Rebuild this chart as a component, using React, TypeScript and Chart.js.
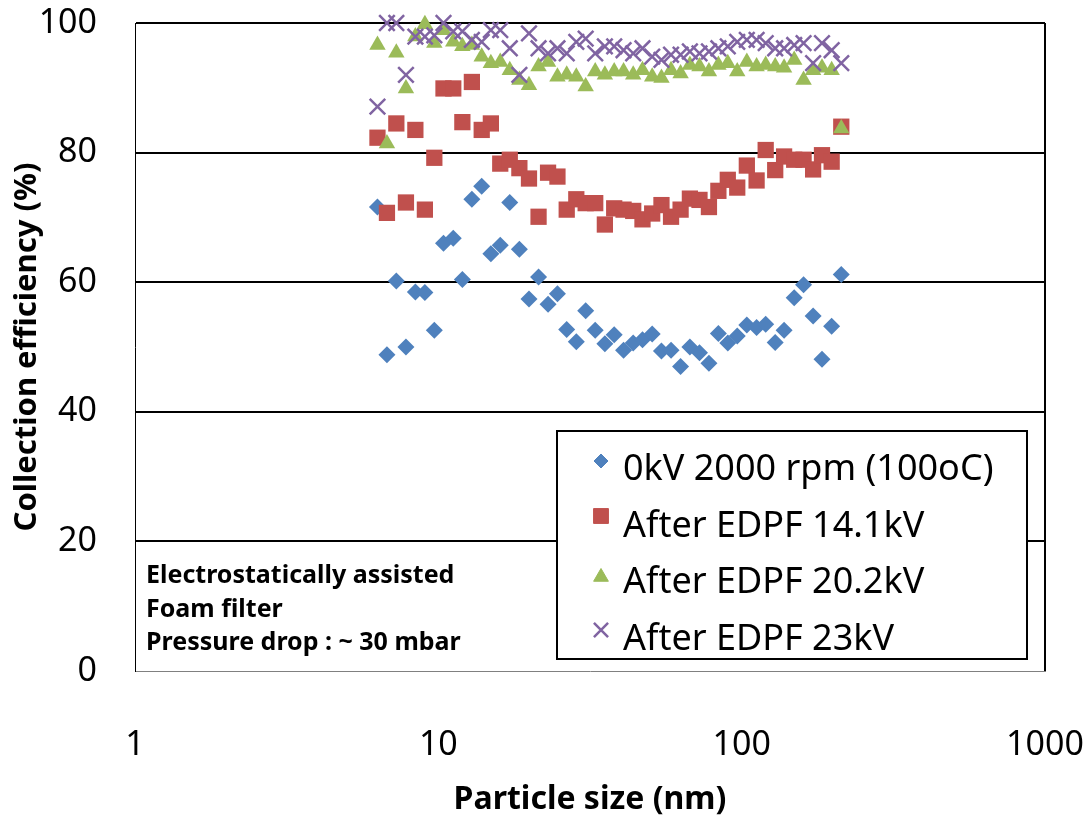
import React, { useEffect, useRef } from "react";
import { Chart, registerables } from "chart.js";
import { drawPoint } from "chart.js/helpers";

Chart.register(...registerables);

// ---- data ----
const sizesNm = [
  6.3, 6.77, 7.27, 7.82, 8.4, 9.03, 9.7, 10.4, 11.2, 12.0,
  12.9, 13.9, 14.9, 16.0, 17.2, 18.5, 19.9, 21.4, 23.0, 24.7,
  26.5, 28.5, 30.6, 32.9, 35.4, 38.0, 40.8, 43.9, 47.1, 50.7,
  54.4, 58.5, 62.9, 67.5, 72.6, 78.0, 83.8, 90.0, 96.7, 104,
  112, 120, 129, 138, 149, 160, 172, 184, 198, 213,
];

const eff0kV = [
  71.6, 48.8, 60.2, 50.0, 58.5, 58.4, 52.6, 66.0, 66.8, 60.4,
  72.8, 74.8, 64.4, 65.7, 72.3, 65.1, 57.4, 60.8, 56.6, 58.2,
  52.7, 50.8, 55.6, 52.6, 50.5, 51.9, 49.5, 50.6, 51.1, 52.0,
  49.4, 49.5, 47.0, 50.0, 49.1, 47.5, 52.1, 50.6, 51.7, 53.4,
  53.0, 53.5, 50.7, 52.6, 57.6, 59.6, 54.8, 48.1, 53.2, 61.2,
];

const eff14kV = [
  82.3, 70.7, 84.5, 72.3, 83.5, 71.2, 79.2, 89.9, 89.9, 84.7,
  90.9, 83.5, 84.5, 78.3, 78.9, 77.6, 76.0, 70.1, 76.9, 76.3,
  71.2, 72.8, 72.2, 72.2, 68.9, 71.4, 71.2, 71.0, 69.7, 70.6,
  71.9, 70.1, 71.2, 72.9, 72.7, 71.6, 74.1, 75.8, 74.6, 78.0,
  75.7, 80.4, 77.3, 79.4, 78.9, 78.9, 77.4, 79.6, 78.6, 84.0,
];

const eff20kV = [
  96.6, 81.4, 95.4, 89.9, 97.9, 99.8, 96.9, 98.9, 97.1, 96.4,
  96.6, 94.8, 93.8, 94.0, 92.7, 91.2, 90.4, 93.3, 94.0, 91.7,
  92.0, 91.7, 90.2, 92.5, 92.0, 92.5, 92.5, 92.0, 92.7, 91.7,
  91.5, 92.7, 92.2, 93.5, 93.3, 92.5, 93.5, 93.8, 92.5, 94.0,
  93.3, 93.5, 93.3, 93.1, 94.3, 91.2, 92.7, 93.1, 92.7, 83.7,
];

const eff23kV = [
  87.1, 100, 100, 92.0, 97.9, 97.9, 98.1, 100, 98.7, 98.7,
  97.4, 97.1, 98.9, 98.9, 96.1, 92.0, 98.4, 96.1, 95.3, 96.1,
  95.3, 97.1, 97.6, 95.3, 96.4, 96.4, 95.8, 95.3, 96.1, 94.8,
  94.3, 95.1, 95.1, 95.6, 95.3, 95.6, 96.1, 96.4, 97.1, 97.4,
  97.4, 96.9, 96.1, 96.1, 96.6, 96.9, 93.8, 96.9, 95.8, 93.8,
];

const seriesLabels = [
  "0kV 2000 rpm (100oC)",
  "After EDPF 14.1kV",
  "After EDPF 20.2kV",
  "After EDPF 23kV",
];
const xTickValues = [1, 10, 100, 1000];
const yTickStep = 20;
const noteLines = [
  "Electrostatically assisted",
  "Foam filter",
  "Pressure drop : ~ 30 mbar",
];
const xTitle = "Particle size (nm)";
const yTitle = "Collection efficiency (%)";

const FONT = "'Noto Sans', 'DejaVu Sans', sans-serif";

const styles = [
  { color: "#4F81BD", pointStyle: "rectRot", radius: 8.5, legendRadius: 7, width: 0 },
  { color: "#C0504D", pointStyle: "rect", radius: 11.5, legendRadius: 10.5, width: 0 },
  { color: "#9BBB59", pointStyle: "triangle", radius: 9.5, legendRadius: 8.5, width: 0 },
  { color: "#8064A2", pointStyle: "crossRot", radius: 11, legendRadius: 10, width: 2.5 },
];

const seriesValues = [eff0kV, eff14kV, eff20kV, eff23kV];

const overlayPlugin = {
  id: "overlay",
  afterDraw(chart: any) {
    const { ctx, chartArea: a } = chart;
    ctx.save();
    // right border of plot
    ctx.strokeStyle = "#000";
    ctx.lineWidth = 2;
    ctx.beginPath();
    ctx.moveTo(a.right, a.top);
    ctx.lineTo(a.right, a.bottom);
    ctx.stroke();

    // note text
    ctx.fillStyle = "#000";
    ctx.font = `bold 25px ${FONT}`;
    ctx.textAlign = "left";
    ctx.textBaseline = "alphabetic";
    noteLines.forEach((t, i) => {
      ctx.fillText(t, a.left + 11, a.bottom - 88 + i * 33.5);
    });

    // legend box
    const bx = a.left + 422;
    const by = a.top + 408;
    const bw = 470;
    const bh = 228;
    ctx.fillStyle = "#fff";
    ctx.fillRect(bx, by, bw, bh);
    ctx.strokeStyle = "#000";
    ctx.lineWidth = 2;
    ctx.strokeRect(bx, by, bw, bh);

    ctx.font = `36px ${FONT}`;
    const markerY = [30, 85, 146, 199];
    const textY = [49, 106, 162, 219];
    chart.data.datasets.forEach((ds: any, i: number) => {
      const st = styles[i];
      ctx.fillStyle = st.color;
      ctx.strokeStyle = st.color;
      ctx.lineWidth = st.width || 1;
      drawPoint(
        ctx,
        { pointStyle: st.pointStyle, radius: st.legendRadius, rotation: 0, borderWidth: st.width || 1 } as any,
        bx + 44,
        by + markerY[i]
      );
      ctx.fillStyle = "#000";
      ctx.fillText(ds.label, bx + 66, by + textY[i]);
    });
    ctx.restore();
  },
};

export default function App() {
  const canvasRef = useRef<HTMLCanvasElement | null>(null);

  useEffect(() => {
    document.body.style.margin = "0";
    const canvas = canvasRef.current;
    if (!canvas) return;

    const datasets = seriesValues.map((vals, i) => ({
      label: seriesLabels[i],
      data: sizesNm.map((x, j) => ({ x, y: vals[j] })),
      pointStyle: styles[i].pointStyle,
      pointRadius: styles[i].radius,
      pointHoverRadius: styles[i].radius,
      backgroundColor: styles[i].color,
      borderColor: styles[i].color,
      pointBorderWidth: styles[i].width,
      borderWidth: styles[i].width,
      showLine: false,
      clip: false,
      order: 3 - i,
    }));

    const chart = new Chart(canvas, {
      type: "scatter",
      data: { datasets },
      plugins: [overlayPlugin],
      options: {
        responsive: false,
        animation: false,
        devicePixelRatio: 1,
        layout: { padding: { left: 0, top: 23, right: 45, bottom: 0 } },
        plugins: {
          legend: { display: false },
          tooltip: { enabled: false },
        },
        scales: {
          x: {
            type: "logarithmic",
            min: 1,
            max: 1000,
            afterBuildTicks: (scale: any) => {
              scale.ticks = xTickValues.map((v) => ({ value: v }));
            },
            afterFit: (scale: any) => {
              scale.height = 145;
              scale.paddingLeft = 0;
              scale.paddingRight = 0;
              scale.paddingTop = 0;
              scale.paddingBottom = 0;
            },
            grid: { display: false, drawTicks: false },
            border: { display: true, color: "#808080", width: 1 },
            ticks: {
              autoSkip: false,
              maxRotation: 0,
              padding: 54,
              color: "#000",
              font: { family: FONT, size: 34 },
              callback: (v: any) => String(v),
            },
            title: {
              display: true,
              text: xTitle,
              color: "#000",
              font: { family: FONT, size: 32, weight: "bold" },
              padding: { top: 0, bottom: -3 },
            },
          },
          y: {
            min: 0,
            max: 100,
            afterFit: (scale: any) => {
              scale.width = 135;
              scale.paddingLeft = 0;
              scale.paddingRight = 0;
              scale.paddingTop = 0;
              scale.paddingBottom = 0;
            },
            grid: {
              drawTicks: false,
              lineWidth: 2,
              color: (c: any) => (c.tick && c.tick.value === 0 ? "rgba(0,0,0,0)" : "#000"),
            },
            border: { display: true, color: "#000", width: 1 },
            ticks: {
              stepSize: yTickStep,
              padding: 38,
              color: "#000",
              font: { family: FONT, size: 34 },
            },
            title: {
              display: true,
              text: yTitle,
              color: "#000",
              font: { family: FONT, size: 31, weight: "bold" },
              padding: { top: 9, bottom: 0 },
            },
          },
        },
      } as any,
    });
    return () => chart.destroy();
  }, []);

  return (
    <div style={{ width: 1090, height: 816 }}>
      <canvas ref={canvasRef} width={1090} height={816} />
    </div>
  );
}
